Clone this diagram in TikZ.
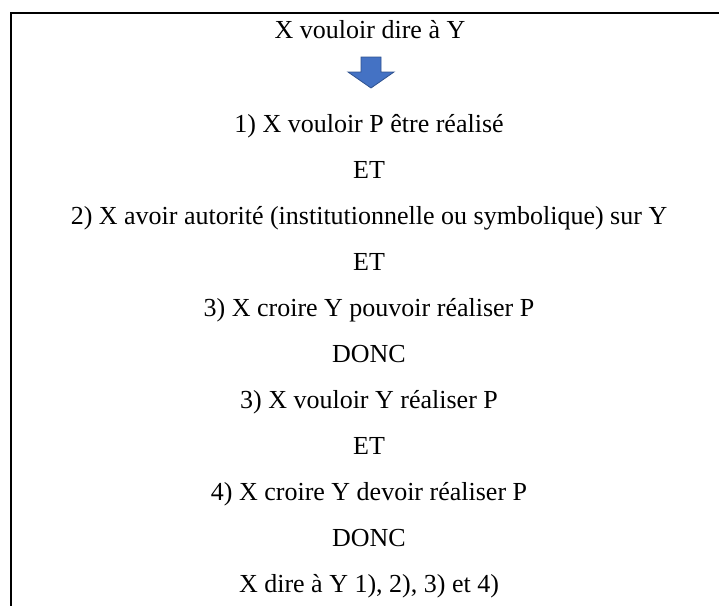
\documentclass[tikz,border=0pt]{standalone}
\usepackage{fontspec}
\setmainfont{Liberation Serif}
\definecolor{flechebleu}{RGB}{68,114,196}
\definecolor{flechebord}{RGB}{47,82,143}
\tikzset{
  ligne/.style={anchor=base, inner sep=0pt, font=\fontsize{13}{15}\selectfont},
  cadre/.style={draw=black, line width=1pt},
  fleche/.style={fill=flechebleu, draw=flechebord, line width=0.4pt, line join=miter}
}
\begin{document}
\begin{tikzpicture}[x=0.5pt,y=-0.5pt]
            \useasboundingbox (0,0) rectangle (719,606);
            \clip (0,0) rectangle (719,606);
            \draw[cadre] (11,13) rectangle (740,640);
            \node[ligne] (titre) at (370,38) {X vouloir dire à Y};
            \filldraw[fleche] (361,57) -- (381,57) -- (381,72) -- (394,72) -- (371,88) -- (348,72) -- (361,72) -- cycle;
            \node[ligne] (un) at (369,132) {1) X vouloir P être réalisé};
            \node[ligne] (et1) at (369,178) {ET};
            \node[ligne] (deux) at (369,224) {2) X avoir autorité (institutionnelle ou symbolique) sur Y};
            \node[ligne] (et2) at (369,270) {ET};
            \node[ligne] (trois) at (369,316) {3) X croire Y pouvoir réaliser P};
            \node[ligne] (donc1) at (369,362) {DONC};
            \node[ligne] (troisb) at (369,408) {3) X vouloir Y réaliser P};
            \node[ligne] (et3) at (369,454) {ET};
            \node[ligne] (quatre) at (369,500) {4) X croire Y devoir réaliser P};
            \node[ligne] (donc2) at (369,546) {DONC};
            \node[ligne] (fin) at (369,592) {X dire à Y 1), 2), 3) et 4)};
        \end{tikzpicture}
\end{document}
